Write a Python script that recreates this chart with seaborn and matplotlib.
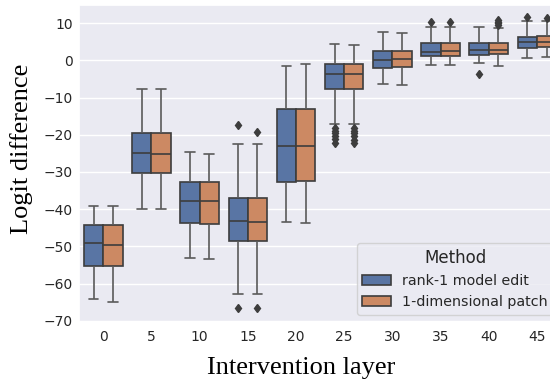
import matplotlib
matplotlib.use("Agg")
import matplotlib.pyplot as plt
import numpy as np
import pandas as pd
import seaborn as sns

# ---- data (box-plot summary values) ----
layers = [0, 5, 10, 15, 20, 25, 30, 35, 40, 45]
methods = ["rank-1 model edit", "1-dimensional patch"]

# rank-1 model edit
edit_low = [-64.2, -39.9, -53.2, -62.7, -43.4, -17.1, -6.4, -1.3, -0.75, 0.6]
edit_q1 = [-55.3, -30.2, -43.7, -48.7, -32.6, -7.6, -2.0, 1.1, 1.4, 3.3]
edit_med = [-49.2, -24.8, -37.8, -43.2, -22.9, -3.7, 0.2, 2.2, 2.7, 4.85]
edit_q3 = [-44.25, -19.4, -32.7, -37.0, -13.0, -0.9, 2.4, 4.7, 4.7, 6.4]
edit_high = [-39.2, -7.75, -24.7, -22.6, -1.4, 4.35, 7.6, 8.9, 9.0, 10.7]
edit_out = [[], [], [], [-66.7, -17.35], [],
            [-22.1, -21.2, -20.4, -19.6, -18.9, -18.25],
            [], [10.3], [-3.7], [11.8]]

# 1-dimensional patch
patch_low = [-65.0, -39.9, -53.4, -62.7, -43.7, -17.1, -6.6, -1.2, -1.55, 1.0]
patch_q1 = [-55.4, -30.4, -44.0, -48.7, -32.5, -7.6, -1.9, 1.3, 1.75, 3.6]
patch_med = [-49.7, -25.2, -37.8, -43.4, -22.9, -3.7, 0.3, 2.5, 2.9, 4.9]
patch_q3 = [-44.4, -19.4, -32.7, -37.0, -13.2, -0.9, 2.55, 4.7, 4.7, 6.6]
patch_high = [-39.2, -7.75, -25.1, -22.6, -1.0, 4.2, 7.5, 8.9, 8.65, 10.6]
patch_out = [[], [], [], [-66.7, -19.2], [],
             [-22.3, -21.3, -20.4, -19.6, -18.9, -18.2],
             [], [10.35], [9.5, 10.0, 10.4, 10.8], [11.35]]


def expand(low, q1, med, q3, high, outs):
    """Build a sample whose quartiles / whiskers / fliers are exactly the given ones."""
    lo_out = sorted(o for o in outs if o < q1)
    hi_out = sorted(o for o in outs if o > q3)
    below = lo_out + [low]
    above = [high] + hi_out
    k = max(len(below), len(above))
    vals = (below + [q1] * (k - len(below) + 1) + [med] * k
            + [q3] * (2 * k - len(above)) + above)
    return vals


rows = []
series = [
    (methods[0], edit_low, edit_q1, edit_med, edit_q3, edit_high, edit_out),
    (methods[1], patch_low, patch_q1, patch_med, patch_q3, patch_high, patch_out),
]
for name, lo, a, m, b, hi, outs in series:
    for i, layer in enumerate(layers):
        for v in expand(lo[i], a[i], m[i], b[i], hi[i], outs[i]):
            rows.append({"Intervention layer": layer, "Method": name, "value": v})
df = pd.DataFrame(rows)

sns.set_theme(style="darkgrid")
plt.rcParams["xtick.labelsize"] = 10
plt.rcParams["ytick.labelsize"] = 10
plt.rcParams["xtick.major.size"] = 0
plt.rcParams["ytick.major.size"] = 0
plt.rcParams["xtick.major.pad"] = 5.5
plt.rcParams["ytick.major.pad"] = 4.7
plt.rcParams["xtick.color"] = "#262626"
plt.rcParams["ytick.color"] = "#262626"

fig = plt.figure(figsize=(5.5, 3.87), dpi=100)
ax = fig.add_axes([0.144, 0.168, 0.876, 0.820])

line_gray = "#3d3d3d"
sns.boxplot(data=df, x="Intervention layer", y="value", hue="Method",
            hue_order=methods, order=layers, ax=ax, linecolor=line_gray,
            linewidth=1.2,
            whiskerprops=dict(color="#5a5a5a"),
            capprops=dict(color="#5a5a5a"),
            flierprops=dict(marker="d", markersize=4.5,
                            markerfacecolor=line_gray,
                            markeredgecolor=line_gray))

ax.set_ylim(-70.35, 15.0)
ax.set_yticks([10, 0, -10, -20, -30, -40, -50, -60, -70])

ax.set_xlabel("Intervention layer", family="Liberation Serif", fontsize=19,
              color="black")
ax.set_ylabel("Logit difference", family="Liberation Serif", fontsize=19,
              color="black")
ax.xaxis.set_label_coords(0.46, -0.11)
ax.yaxis.set_label_coords(-0.095, 0.545)

sns.move_legend(ax, "lower right", title="Method", fontsize=10.3,
                title_fontsize=12)

fig.savefig("out.png", dpi=100)
